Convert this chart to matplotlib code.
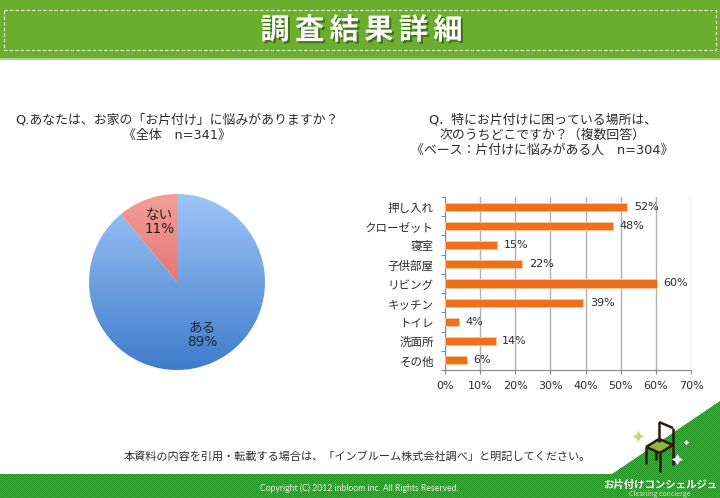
#!/usr/bin/env python3
import numpy as np
import matplotlib
matplotlib.use('Agg')
import matplotlib.pyplot as plt
import matplotlib.patheffects as pe
from matplotlib.colors import LinearSegmentedColormap, ListedColormap
from matplotlib.patches import Polygon, Rectangle

# DejaVu first: its latin is close to the Verdana in the original, kana falls through
plt.rcParams['font.family'] = ['DejaVu Sans', 'Noto Sans CJK JP']

W, H = 720, 498
TEXT = '#2c2c2c'
GREEN = '#6cae30'

title_chars = list("調査結果詳細")

pie_labels = ['ある', 'ない']
pie_values = [89, 11]

places = ['押し入れ', 'クローゼット', '寝室', '子供部屋', 'リビング', 'キッチン', 'トイレ', '洗面所', 'その他']
rates = [51.8, 47.8, 14.8, 21.9, 60.3, 39.4, 4.0, 14.4, 6.2]
rate_ticks = [0, 10, 20, 30, 40, 50, 60, 70]

fig = plt.figure(figsize=(W / 100, H / 100), dpi=100, facecolor='white')


def px_axes(left, top, width, height):
    return fig.add_axes([left / W, 1 - (top + height) / H, width / W, height / H])


# ── page background, pixel coords ─────────────────────────────────────
bg = fig.add_axes([0, 0, 1, 1])
bg.axis('off')

# footer band and corner slope share one dithered green
checker = np.indices((H, W)).sum(axis=0) % 2
dither = bg.imshow(checker, cmap=ListedColormap(['#1f8f1f', '#45b23a']), extent=[0, W, H, 0],
                   interpolation='nearest', aspect='auto')
footer = Polygon([(0, 474), (612, 474), (720, 401), (720, 498), (0, 498)], fc='none', lw=0)
bg.add_patch(footer)
dither.set_clip_path(footer)
bg.set_xlim(0, W)
bg.set_ylim(H, 0)

bg.add_patch(Rectangle((0, 0), W, 58, color=GREEN, lw=0))
bg.add_patch(Rectangle((0, 58), W, 1.5, color='#a9d083', lw=0))
bg.add_patch(Rectangle((4, 9.5), 712, 40.5, fill=False, ec='#e8f3da', lw=0.8, ls=(0, (3, 2))))

for i, ch in enumerate(title_chars):
    bg.text(275 + i * 34.6, 30, ch, color='white', fontsize=21, fontweight='bold',
            ha='center', va='center', family='Noto Sans CJK JP',
            path_effects=[pe.withSimplePatchShadow(offset=(1.5, -1.5), shadow_rgbFace='#2f5a10', alpha=0.7)])

bg.text(177, 120, 'Q.あなたは、お家の「お片付け」に悩みがありますか？', fontsize=9.3, color=TEXT, ha='center', va='center')
bg.text(177, 135, '《全体　n=341》', fontsize=9.3, color=TEXT, ha='center', va='center')
bg.text(543, 120, 'Q．特にお片付けに困っている場所は、', fontsize=9.3, color=TEXT, ha='center', va='center')
bg.text(543, 135, '次のうちどこですか？（複数回答）', fontsize=9.3, color=TEXT, ha='center', va='center')
bg.text(542, 150, '《ベース：片付けに悩みがある人　n=304》', fontsize=9.3, color=TEXT, ha='center', va='center')

bg.text(357, 456, '本資料の内容を引用・転載する場合は、「インブルーム株式会社調べ」と明記してください。',
        fontsize=8, color=TEXT, ha='center', va='center')

bg.text(359, 488, 'Copyright (C) 2012 inbloom inc. All Rights Reserved.', fontsize=6.25,
        color='#e4f2d8', ha='center', va='center', family=['Lato', 'DejaVu Sans'])
bg.text(660, 485, 'お片付けコンシェルジュ', fontsize=7.5, fontweight='bold', color='white',
        ha='center', va='center', family='Noto Sans CJK JP')
bg.text(660, 494, 'Cleaning concierge', fontsize=5, color='#cfe6bd', ha='center', va='center',
        family='Noto Sans CJK JP')

# chair logo
CHAIR = '#2b1a12'
bg.add_patch(Polygon([(646, 447), (659, 439), (673, 445), (660, 453)], color='#8cb63c', lw=0))
for xs, ys in [([659, 659], [442, 422]), ([659, 673], [422, 428]), ([673, 673], [428, 465]),
               ([646, 659], [447, 439]), ([659, 673], [439, 445]), ([646, 660], [447, 453]),
               ([660, 673], [453, 445]), ([646, 646], [447, 464]), ([660, 660], [453, 472]),
               ([656, 656], [451, 460])]:
    bg.plot(xs, ys, color=CHAIR, lw=1.8, solid_capstyle='butt')
for x, y, s in [(638, 436, 8), (686, 442, 4), (677, 459, 8)]:
    bg.plot([x], [y], marker=(4, 1, 0), ms=s, mew=0, color='#c3d67a' if x == 638 else 'white')

# ── pie ───────────────────────────────────────────────────────────────
pie_ax = px_axes(89, 194, 176, 176)
wedges, _ = pie_ax.pie(pie_values, startangle=90, counterclock=False, radius=1.0)
gradients = [('#9fc5f7', '#3f7ccb'), ('#f2a09b', '#d64f48')]
ramp = np.linspace(0, 1, 256).reshape(-1, 1)
for wedge, (top, bottom) in zip(wedges, gradients):
    cmap = LinearSegmentedColormap.from_list('fade', [top, bottom])
    wedge.set_facecolor('none')
    im = pie_ax.imshow(ramp, cmap=cmap, extent=[-1, 1, -1, 1], aspect='auto', origin='upper', zorder=1)
    im.set_clip_path(wedge)
pie_ax.set_xlim(-1, 1)
pie_ax.set_ylim(-1, 1)

pie_ax.text(0.29, -0.60, f'{pie_labels[0]}\n{pie_values[0]}%', ha='center', va='center',
            fontsize=9.8, color='#1c2a3a', linespacing=1.05, zorder=3)
pie_ax.text(-0.20, 0.68, f'{pie_labels[1]}\n{pie_values[1]}%', ha='center', va='center',
            fontsize=9.8, color='#2a1a1a', linespacing=1.05, zorder=3)

# ── bars ──────────────────────────────────────────────────────────────
ax = px_axes(445, 197, 246, 173)
y = np.arange(len(places))
ax.barh(y, rates, height=0.42, color='#f0701a', edgecolor='#f6c9a0', lw=0.6, zorder=3)
ax.set_ylim(len(places) - 0.5, -0.5)
ax.set_xlim(0, 70)
ax.set_xticks(rate_ticks)
ax.set_xticklabels([f'{t}%' for t in rate_ticks], fontsize=8, color=TEXT)
ax.set_yticks(y)
ax.set_yticklabels(places, fontsize=8.3, color=TEXT)
ax.set_yticks(np.arange(len(places) + 1) - 0.5, minor=True)
ax.tick_params(axis='y', which='major', length=0, pad=8)
ax.tick_params(axis='y', which='minor', length=3, color='#888888', width=0.8)
ax.tick_params(axis='x', length=3, color='#888888', width=0.8, pad=5)
ax.grid(axis='x', color='#b0b0b0', lw=1, zorder=0)
for side in ['top', 'right']:
    ax.spines[side].set_visible(False)
for side in ['left', 'bottom']:
    ax.spines[side].set_color('#888888')
    ax.spines[side].set_linewidth(0.8)

for yi, v in zip(y, rates):
    ax.text(v + 1.9, yi, f'{v:.0f}%', fontsize=8, color=TEXT, va='center', ha='left', zorder=4)

fig.savefig('out.png', dpi=100)
